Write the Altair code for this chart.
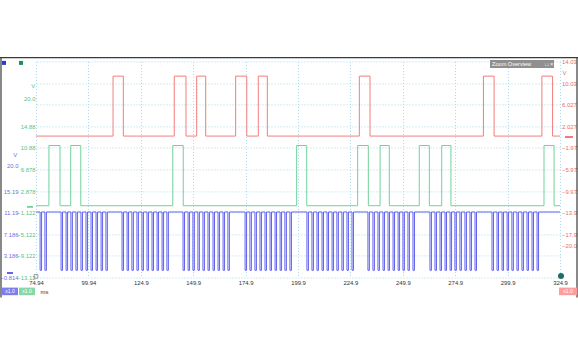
import altair as alt
import pandas as pd

# ---------------- values ----------------
T_START, T_END = 74.94, 324.94
x_ticks = [74.94, 99.94, 124.94, 149.94, 174.94, 199.94, 224.94, 249.94, 274.94, 299.94, 324.94]

# red channel (right axis) : pulse edges in ms
red_rise = [111.7, 140.9, 151.6, 170.2, 181.0, 229.2, 288.4, 316.3]
red_fall = [116.6, 146.5, 155.9, 175.5, 185.3, 234.3, 293.5, 321.4]
red_low, red_high = 0.2, 11.3

# green channel
green_rise = [81.1, 91.5, 140.2, 199.3, 228.4, 239.1, 257.8, 268.5, 317.3]
green_fall = [86.4, 96.3, 145.2, 204.1, 233.5, 243.5, 262.6, 272.9, 322.1]
green_low, green_high = 0.15, 11.3

# blue channel : falling-edge times of the short low pulses
blue_pulse = [
    76.9, 79.2,
    86.9, 89.3, 91.6, 94.0, 96.4, 98.8, 101.2, 103.6, 106.0, 108.3,
    116.0, 118.4, 120.7, 123.1, 125.5, 127.9, 130.3, 132.7, 135.1, 137.4,
    145.1, 147.5, 149.8, 152.2, 154.6, 157.0, 159.4, 161.8, 164.2, 166.5,
    174.7, 177.0, 179.4, 181.8, 184.2, 186.6, 189.0, 191.4, 193.7, 196.1,
    204.2, 206.6, 209.0, 211.4, 213.8, 216.2, 218.5, 220.9, 223.3, 225.7,
    233.3, 235.7, 238.1, 240.5, 242.9, 245.3, 247.7, 250.0, 252.4, 254.8,
    262.9, 265.3, 267.7, 270.1, 272.5, 274.8, 277.2, 279.6, 282.0, 284.4,
    292.5, 294.9, 297.3, 299.7, 302.0, 304.4, 306.8, 309.2, 311.6, 314.0,
]
blue_pulse_width = 0.7
blue_low, blue_high = 0.5, 11.3

# axis scales (volts) for each channel
red_domain = [-25.973, 14.027]
green_domain = [-13.122, 26.878]
blue_domain = [-0.814, 39.186]
red_ticks = [14.027, 10.027, 6.027, 2.027, -1.973, -5.973, -9.973, -13.973, -17.973, -20.0]
green_ticks = [20.0, 14.878, 10.878, 6.878, 2.878, -1.122, -5.122, -9.122, -13.122]
blue_ticks = [20.0, 15.186, 11.186, 7.186, 3.186, -0.814]
grid_ticks = [14.027, 10.027, 6.027, 2.027, -1.973, -5.973, -9.973, -13.973, -17.973, -21.973, -25.973]

# ---------------- styling ----------------
RED, RED_TXT = "#f47c7c", "#ec6b6b"
GREEN, GREEN_TXT = "#6fd29c", "#55bf82"
BLUE, BLUE_TXT = "#6262ee", "#7070e4"
GRID = "#a9d9ec"
FONT = "Liberation Sans"
FS = 5.9

W, H = 524, 216
PAD_L, PAD_T = 36, 61.4


def square_wave(rises, falls, lo, hi):
    rows = [(T_START, lo)]
    for r, f in zip(rises, falls):
        rows += [(r, lo), (r, hi), (f, hi), (f, lo)]
    rows.append((T_END, lo))
    return pd.DataFrame({"t": [a for a, _ in rows], "v": [b for _, b in rows], "i": range(len(rows))})


def pulse_train(starts, width, lo, hi):
    rows = [(T_START, hi)]
    for p in starts:
        rows += [(p, hi), (p, lo), (p + width, lo), (p + width, hi)]
    rows.append((T_END, hi))
    return pd.DataFrame({"t": [a for a, _ in rows], "v": [b for _, b in rows], "i": range(len(rows))})


red_df = square_wave(red_rise, red_fall, red_low, red_high)
green_df = square_wave(green_rise, green_fall, green_low, green_high)
blue_df = pulse_train(blue_pulse, blue_pulse_width, blue_low, blue_high)

LABEL_EXPR = "abs(datum.value) == 20 ? format(datum.value, '.1f') : format(datum.value, '.4~r')"

X = alt.X(
    "t:Q",
    scale=alt.Scale(domain=[T_START, T_END], nice=False, zero=False),
    axis=alt.Axis(
        values=x_ticks,
        labelExpr="datum.value < 100 ? format(datum.value, '.2f') : format(datum.value, '.1f')",
        labelFlush=False,
        labelFont=FONT, labelFontSize=FS, labelColor="#333333", labelPadding=2.5,
        ticks=False, domain=False,
        grid=True, gridColor=GRID, gridDash=[1, 2], gridWidth=1,
        title="ms", titleFont=FONT, titleFontSize=FS, titleFontWeight="normal", titleColor="#333333",
        titleX=4, titleY=13.6, titleAlign="left", titleBaseline="middle", titleAngle=0,
    ),
)


def y_axis(orient, values, color, offset, pad, tx, ty):
    return alt.Axis(
        orient=orient, values=values, labelExpr=LABEL_EXPR, offset=offset,
        labelFont=FONT, labelFontSize=FS, labelColor=color, labelPadding=pad,
        ticks=False, domain=False, grid=False,
        title="V", titleFont=FONT, titleFontSize=FS, titleFontWeight="normal", titleColor=color,
        titleAngle=0, titleX=tx, titleY=ty, titleAlign="center", titleBaseline="middle",
    )


def channel(df, domain, color, axis, marker_x, marker_x2):
    line = alt.Chart(df).mark_line(color=color, strokeWidth=1, clip=True).encode(
        x=X, y=alt.Y("v:Q", scale=alt.Scale(domain=domain, nice=False, zero=False), axis=axis),
        order="i:Q",
    )
    marker = alt.Chart(df).mark_rule(color=color, strokeWidth=1).encode(
        x=alt.value(marker_x), x2=alt.value(marker_x2),
        y=alt.YDatum(0, type="quantitative",
                     scale=alt.Scale(domain=domain, nice=False, zero=False), axis=None),
    )
    return [line, marker]


blue_layers = channel(blue_df, blue_domain, BLUE,
                      y_axis("left", blue_ticks, BLUE_TXT, 17, 1, -4.2, 92.6), -29, -23)
green_layers = channel(green_df, green_domain, GREEN,
                       y_axis("left", green_ticks, GREEN_TXT, 0, 1, -3.3, 23.6), -9, -3)
red_layers = channel(red_df, red_domain, RED,
                     y_axis("right", red_ticks, RED_TXT, 0, 1.5, 4, 11), 529, 537)

grid_layer = alt.Chart(red_df).mark_line(opacity=0).encode(
    x=X,
    y=alt.Y("v:Q", scale=alt.Scale(domain=red_domain, nice=False, zero=False),
            axis=alt.Axis(orient="right", values=grid_ticks, labels=False, ticks=False, domain=False,
                          grid=True, gridColor=GRID, gridDash=[1, 2], gridWidth=1, title=None)),
)

# ---------------- frame / widgets (decoration) ----------------
base = alt.Chart(pd.DataFrame({"k": [0]}))


def box(x, x2, y, y2, fill):
    return base.mark_rect(fill=fill).encode(x=alt.value(x), x2=alt.value(x2), y=alt.value(y), y2=alt.value(y2))


def label(x, y, txt, color, size=FS, align="center"):
    return base.mark_text(text=txt, color=color, fontSize=size, font=FONT, align=align,
                          baseline="middle").encode(x=alt.value(x), y=alt.value(y))


def hline(x, x2, y, color, w=1):
    return base.mark_rule(color=color, strokeWidth=w).encode(x=alt.value(x), x2=alt.value(x2), y=alt.value(y))


def vline(x, y, y2, color, w=1):
    return base.mark_rule(color=color, strokeWidth=w).encode(x=alt.value(x), y=alt.value(y), y2=alt.value(y2))


BTN_Y, BTN_Y2 = 226.2, 233.8
BTN_C = (BTN_Y + BTN_Y2) / 2
decor = [
    hline(-PAD_L, 578 - PAD_L, -3.8, "#3a3a3a", 1.2),
    vline(-PAD_L + 1, -3.8, 236, "#3a3a3a", 1.2),
    vline(578 - PAD_L - 1, -3.8, 236, "#3a3a3a", 1.2),
    box(-34, -30, -0.5, 3.5, "#2a3bd0"),
    box(-17, -13, -0.5, 3.5, "#1f8f52"),
    box(454, 518, -1.5, 6.5, "#8f8f8f"),
    label(456, 2.6, "Zoom Overview", "white", 5.6, "left"),
    label(509, 2.6, "□ ×", "white", 5.6, "left"),
    box(-34, -18, BTN_Y, BTN_Y2, "#7e7eec"),
    label(-26, BTN_C, "x1.0", "white", 5),
    box(-17, -1, BTN_Y, BTN_Y2, "#86d8aa"),
    label(-9, BTN_C, "x1.0", "white", 5),
    box(523, 541, BTN_Y, BTN_Y2, "#ff9d9d"),
    label(532, BTN_C, "x1.0", "white", 5),
    base.mark_square(filled=False, stroke="#555555", strokeWidth=0.8, size=14).encode(
        x=alt.value(0), y=alt.value(215)),
    base.mark_circle(color="#1e6f63", opacity=1, size=36).encode(x=alt.value(525), y=alt.value(214.6)),
]

chart = (
    alt.layer(grid_layer, *blue_layers, *green_layers, *red_layers, *decor)
    .resolve_scale(y="independent")
    .properties(
        width=W, height=H,
        autosize=alt.AutoSizeParams(type="none"),
        padding={"left": PAD_L, "top": PAD_T, "right": 578 - PAD_L - W, "bottom": 350 - PAD_T - H},
        background="white",
    )
    .configure_view(stroke=None)
)

chart.save("out.html", embed_options={"renderer": "svg", "actions": False})
